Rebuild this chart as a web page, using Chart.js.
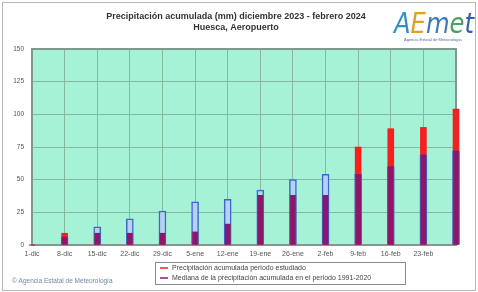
<!DOCTYPE html>
<html><head><meta charset="utf-8">
<script src="https://cdn.jsdelivr.net/npm/chart.js@4.4.1/dist/chart.umd.min.js"></script>
<style>html,body{margin:0;padding:0;background:#fff}#wrap{width:478px;height:292px;position:relative}</style>
</head><body><div id="wrap"><canvas id="c" width="478" height="292"></canvas></div>
<script>
const categories = ['1-dic','8-dic','15-dic','22-dic','29-dic','5-ene','12-ene','19-ene','26-ene','2-feb','9-feb','16-feb','23-feb','29-feb'];
const tickLabels = ['1-dic','8-dic','15-dic','22-dic','29-dic','5-ene','12-ene','19-ene','26-ene','2-feb','9-feb','16-feb','23-feb',''];
const observed = [0, 9, 9, 9, 9, 10, 16, 38, 38, 38, 75, 89, 90, 104];
const median   = [0, 6, 14, 20, 26, 33, 35, 42, 50, 54, 54, 60, 69, 72];
const yTicks = [0, 25, 50, 75, 100, 125, 150];

const common = observed.map((v, i) => Math.min(v, median[i]));

const bgPlugin = {
  id: 'bg',
  beforeDraw(chart) {
    const {ctx, chartArea: a} = chart;
    ctx.save();
    ctx.fillStyle = '#fff';
    ctx.fillRect(0, 0, chart.width, chart.height);
    ctx.strokeStyle = '#b8b8b8';
    ctx.lineWidth = 1;
    ctx.strokeRect(2.5, 2.5, chart.width - 5, chart.height - 4);
    ctx.fillStyle = '#a5f2d6';
    ctx.fillRect(a.left, a.top, a.right - a.left, a.bottom - a.top);
    ctx.restore();
  },
  beforeDatasetsDraw(chart) {
    const {ctx, chartArea: a} = chart;
    ctx.save();
    ctx.strokeStyle = '#7f9a8c';
    ctx.lineWidth = 2;
    ctx.strokeRect(a.left, a.top, a.right - a.left, a.bottom - a.top);
    ctx.restore();
  },
  afterDraw(chart) {
    const {ctx} = chart;
    ctx.save();
    // title
    ctx.fillStyle = '#333';
    ctx.textAlign = 'center';
    ctx.textBaseline = 'middle';
    ctx.font = 'bold 9px "Liberation Sans", Arial, sans-serif';
    ctx.fillText('Precipitación acumulada (mm) diciembre 2023 - febrero 2024', 236, 17);
    ctx.fillText('Huesca, Aeropuerto', 236, 28);
    // logo
    ctx.font = 'italic 28px "DejaVu Sans", sans-serif';
    ctx.textAlign = 'left';
    ctx.textBaseline = 'alphabetic';
    const parts = [['A','#2f8fc9'],['E','#e0a020'],['m','#3a78c0'],['e','#4aa060'],['t','#3060b0']];
    let total = 0;
    for (const [ch] of parts) total += ctx.measureText(ch).width;
    const sx = 80 / total;
    ctx.save();
    ctx.translate(394, 33);
    ctx.scale(sx, 1);
    let x = 0;
    for (const [ch, col] of parts) {
      ctx.fillStyle = col;
      ctx.fillText(ch, x, 0);
      x += ctx.measureText(ch).width;
    }
    ctx.restore();
    ctx.font = '4px "Liberation Sans", Arial, sans-serif';
    ctx.fillStyle = '#5070a0';
    ctx.fillText('Agencia Estatal de Meteorología', 404, 41);
    // legend box
    ctx.fillStyle = '#fff';
    ctx.fillRect(155, 262, 250, 22);
    ctx.strokeStyle = '#8a8a8a';
    ctx.lineWidth = 1;
    ctx.strokeRect(155.5, 262.5, 250, 22);
    ctx.font = '7px "Liberation Sans", Arial, sans-serif';
    ctx.textBaseline = 'middle';
    ctx.lineWidth = 1.5;
    ctx.strokeStyle = '#ee2020';
    ctx.beginPath(); ctx.moveTo(160, 268); ctx.lineTo(168, 268); ctx.stroke();
    ctx.strokeStyle = '#8a1a6a';
    ctx.beginPath(); ctx.moveTo(160, 278); ctx.lineTo(168, 278); ctx.stroke();
    ctx.fillStyle = '#444';
    ctx.fillText('Precipitación acumulada periodo estudiado', 172, 268);
    ctx.fillText('Mediana de la precipitación acumulada en el periodo 1991-2020', 172, 278);
    // copyright
    ctx.fillStyle = '#7088a8';
    ctx.font = '6.5px "Liberation Sans", Arial, sans-serif';
    ctx.fillText('© Agencia Estatal de Meteorología', 12, 281);
    ctx.restore();
  }
};

new Chart(document.getElementById('c'), {
  type: 'bar',
  data: {
    labels: categories,
    datasets: [
      { label: 'Precipitación acumulada periodo estudiado', data: observed, backgroundColor: '#f52020', barThickness: 6, order: 3, grouped: false },
      { label: 'Mediana de la precipitación acumulada en el periodo 1991-2020', data: median, backgroundColor: '#b8d0f4', borderColor: '#3a68d0', borderWidth: 1.5, barThickness: 7, order: 2, grouped: false },
      { label: 'común', data: common, backgroundColor: '#8e1668', barThickness: 5, order: 1, grouped: false }
    ]
  },
  options: {
    responsive: false,
    animation: false,
    devicePixelRatio: 1,
    layout: { padding: { left: 3, right: 22, top: 49, bottom: 0 } },
    plugins: { legend: { display: false }, tooltip: { enabled: false }, title: { display: false } },
    datasets: { bar: { clip: false } },
    scales: {
      x: {
        offset: false,
        grid: { offset: false, color: '#86b8a0', lineWidth: 1, drawTicks: false },
        border: { display: false },
        ticks: {
          autoSkip: false, maxRotation: 0, padding: 5,
          color: '#555',
          font: { size: 7, family: '"Liberation Sans", Arial, sans-serif' },
          callback: (v, i) => tickLabels[i]
        },
        afterFit(s) { s.height = 47; }
      },
      y: {
        min: 0, max: 150,
        afterBuildTicks(s) { s.ticks = yTicks.map(v => ({ value: v })); },
        grid: { color: '#86b8a0', lineWidth: 1, drawTicks: false },
        border: { display: false },
        ticks: { padding: 8, color: '#555', font: { size: 6.5, family: '"Liberation Sans", Arial, sans-serif' } },
        afterFit(s) { s.width = 29; }
      }
    }
  },
  plugins: [bgPlugin]
});
</script></body></html>
